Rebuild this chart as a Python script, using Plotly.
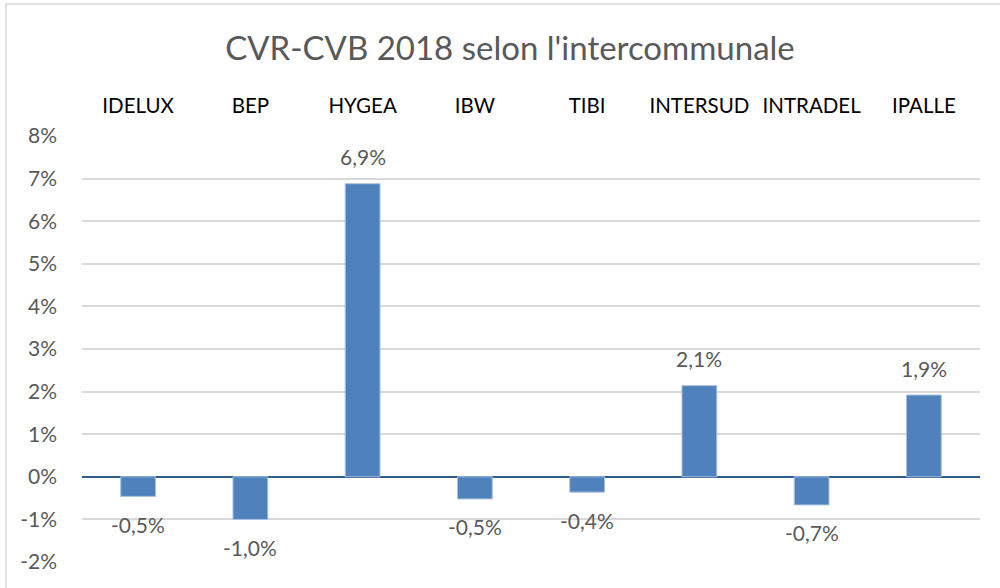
import plotly.graph_objects as go

categories = ["IDELUX", "BEP", "HYGEA", "IBW", "TIBI", "INTERSUD", "INTRADEL", "IPALLE"]
values = [-0.0046, -0.0100, 0.0688, -0.0052, -0.0036, 0.0214, -0.0066, 0.0192]
y_ticks = [-0.02, -0.01, 0, 0.01, 0.02, 0.03, 0.04, 0.05, 0.06, 0.07, 0.08]
y_tick_labels = ["-2%", "-1%", "0%", "1%", "2%", "3%", "4%", "5%", "6%", "7%", "8%"]

W, H = 1000, 588
L, R, T, B = 82, 20, 136, 26
pw, ph = W - L - R, H - T - B

def px_to_paper_x(px):
    return (px - L) / pw

def px_to_paper_y(py):
    return (H - B - py) / ph

font = "Lato, 'Open Sans', sans-serif"
txt = "#595959"

def fmt(v):
    return f"{v*100:.1f}%".replace(".", ",")

fig = go.Figure(go.Bar(
    x=categories, y=values,
    marker=dict(color="#4F81BD", line=dict(color="#A9C1E0", width=1)),
    width=0.31,
))

annotations = []
for c, v in zip(categories, values):
    annotations.append(dict(
        x=c, y=v, xref="x", yref="y", text=fmt(v), showarrow=False,
        yanchor="middle", xanchor="center", yshift=27 if v >= 0 else -28,
        font=dict(size=21, color=txt, family=font),
    ))

fig.update_layout(
    width=W, height=H,
    margin=dict(l=L, r=R, t=T, b=B),
    paper_bgcolor="white", plot_bgcolor="white",
    showlegend=False,
    title=dict(text="CVR-CVB 2018 selon l'intercommunale", x=0.51, xanchor="center",
               y=1 - 48 / H, yanchor="middle",
               font=dict(size=33, color=txt, family=font)),
    xaxis=dict(side="top", showgrid=False, showline=False, ticks="",
               tickfont=dict(size=20.5, color="#000000", family=font),
               ticklabelstandoff=18, zeroline=False, automargin=False),
    yaxis=dict(range=[-0.02, 0.08], tickvals=y_ticks, ticktext=y_tick_labels,
               showgrid=True, gridcolor="#D9D9D9", gridwidth=1.5,
               zeroline=True, zerolinecolor="#2F5D8C", zerolinewidth=2,
               tickfont=dict(size=21, color=txt, family=font),
               ticklabelstandoff=24, showline=False, ticks="", automargin=False),
    annotations=annotations,
    shapes=[dict(type="rect", xref="paper", yref="paper",
                 x0=px_to_paper_x(6), x1=px_to_paper_x(1010),
                 y0=px_to_paper_y(600), y1=px_to_paper_y(4),
                 line=dict(color="#D9D9D9", width=1.5), fillcolor="rgba(0,0,0,0)",
                 layer="below")],
)

fig.write_html("out.html", config={"displayModeBar": False},
               post_script="document.body.style.margin='0px';")
